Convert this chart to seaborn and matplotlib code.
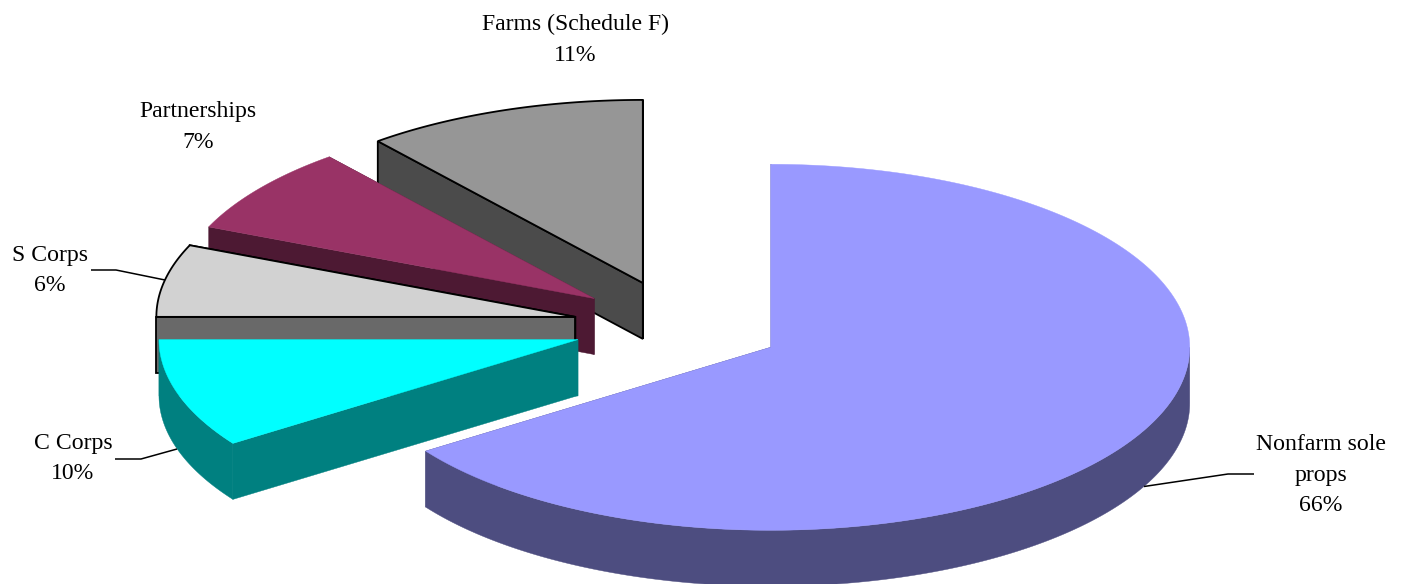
import numpy as np
import matplotlib
matplotlib.use("Agg")
import matplotlib.pyplot as plt
import seaborn as sns

# ---- data ----
categories = ["Nonfarm sole\nprops", "C Corps", "S Corps", "Partnerships", "Farms (Schedule F)"]
shares = [65.4, 9.6, 6.4, 7.7, 10.9]
shown_pct = ["66%", "10%", "6%", "7%", "11%"]

# ---- styles ----
top_colors = ["#9999FF", "#00FFFF", "#D2D2D2", "#993366", "#969696"]
side_colors = ["#4D4D80", "#008080", "#696969", "#4D1933", "#4B4B4B"]
outlined = [False, False, True, False, True]
draw_order = [4, 3, 2, 1, 0]

CX, CY = 678.0, 326.0      # pie centre before explosion (pixels)
RX, RY = 419.0, 183.0      # projected radii
DEPTH = 56.0
EXPLODE = 0.25
label_pos = [(1321, 475), (73, 458.5), (50, 270.5), (198, 127), (575, 39.5)]
leaders = {
    0: [(1254, 474), (1228, 474), (1144, 486.5)],
    1: [(115, 459), (141, 459), (177, 449)],
    2: [(91, 270), (116, 270), (165, 280)],
}

sns.set_theme(style="white")
plt.rcParams["font.family"] = ["Liberation Serif", "DejaVu Serif"]

fig = plt.figure(figsize=(14.08, 5.84), dpi=100, facecolor="white")
ax = fig.add_axes([0, 0, 1, 1])
ax.set_xlim(0, 1408)
ax.set_ylim(584, 0)
ax.axis("off")

edges = np.cumsum([0.0] + shares) / sum(shares) * 2 * np.pi


def rim(cx, cy, a):
    return np.column_stack([cx + RX * np.sin(a), cy - RY * np.cos(a)])


def shift(p):
    return p + np.array([0, DEPTH])


for i in draw_order:
    t1, t2 = edges[i], edges[i + 1]
    mid = (t1 + t2) / 2
    cx = CX + EXPLODE * RX * np.sin(mid)
    cy = CY - EXPLODE * RY * np.cos(mid)
    z = draw_order.index(i) * 10 + 2
    ec = "black" if outlined[i] else side_colors[i]
    lw = 1.3 if outlined[i] else 0.3
    apex = np.array([[cx, cy]])
    # cut faces
    for t in (t2, t1):
        e = rim(cx, cy, np.array([t]))
        face = np.vstack([apex, e, shift(e), shift(apex)])
        ax.fill(face[:, 0], face[:, 1], fc=side_colors[i], ec=ec, lw=lw, zorder=z)
    # outer wall: only the front half of the rim is seen
    lo, hi = max(t1, np.pi / 2), min(t2, 3 * np.pi / 2)
    if hi > lo:
        arc = rim(cx, cy, np.linspace(lo, hi, 240))
        wall = np.vstack([arc, shift(arc)[::-1]])
        ax.fill(wall[:, 0], wall[:, 1], fc=side_colors[i], ec=side_colors[i], lw=0.3, zorder=z + 1)
    # top
    arc = rim(cx, cy, np.linspace(t1, t2, 240))
    top = np.vstack([apex, arc])
    ax.fill(top[:, 0], top[:, 1], fc=top_colors[i],
            ec="black" if outlined[i] else top_colors[i], lw=lw, zorder=z + 2)

for i, (name, pct) in enumerate(zip(categories, shown_pct)):
    ax.text(*label_pos[i], f"{name}\n{pct}", ha="center", va="center", fontsize=17.1,
            color="black", linespacing=1.62, zorder=100)

for pts in leaders.values():
    xs, ys = zip(*pts)
    ax.plot(xs, ys, color="black", lw=1.1, zorder=90, solid_capstyle="butt")

fig.savefig("out.png", dpi=100, facecolor="white")
